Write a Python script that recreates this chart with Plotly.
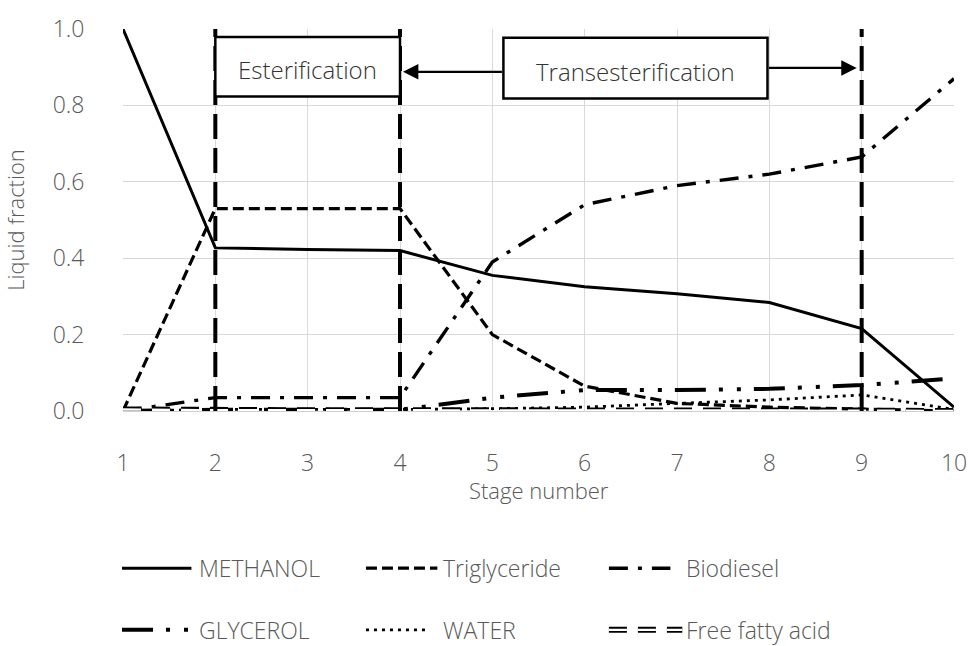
import plotly.graph_objects as go

# Stage-wise liquid composition along the reactive distillation column
stages = [1, 2, 3, 4, 5, 6, 7, 8, 9, 10]
methanol = [1.0, 0.427, 0.423, 0.42, 0.355, 0.325, 0.307, 0.284, 0.216, 0.01]
triglyceride = [0.0, 0.53, 0.53, 0.53, 0.20, 0.065, 0.02, 0.01, 0.005, 0.0]
biodiesel = [0.0, 0.035, 0.035, 0.035, 0.39, 0.54, 0.59, 0.62, 0.665, 0.87]
glycerol = [0.0, 0.003, 0.003, 0.003, 0.035, 0.055, 0.055, 0.058, 0.068, 0.085]
water = [0.0, 0.004, 0.004, 0.004, 0.006, 0.01, 0.02, 0.029, 0.042, 0.004]
free_fatty_acid = [0.004, 0.002, 0.002, 0.002, 0.001, 0.001, 0.001, 0.001, 0.001, 0.0]

# Section boundaries (stage numbers) and label boxes
section_bounds = [2, 4, 9]
esterification_span = [2, 4]
transesterification_span = [5.12, 7.98]

TXT = "#595959"
FONT = "Open Sans"
LIGHT = 300

# page geometry of the plotting area
W, H = 979, 646
ML, MR, MT, MB = 123, 18, 27, 235
PW, PH = W - ML - MR, H - MT - MB

def px_x(px):
    return (px - ML) / PW

def px_y(py):
    return (MT + PH - py) / PH

# series: name, values, line style, legend sample length, legend column, legend row
series = [
    ("METHANOL", methanol, dict(dash="solid", width=3), 70, 0, 0),
    ("Triglyceride", triglyceride, dict(dash="11px,5px", width=3.2), 72, 1, 0),
    ("Biodiesel", biodiesel, dict(dash="19px,10px,4px,10px", width=3.4), 62, 2, 0),
    ("GLYCEROL", glycerol, dict(dash="31px,13px,4px,14px,4px,13px", width=4), 68, 0, 1),
    ("WATER", water, dict(dash="3px,5px", width=2.8), 62, 1, 1),
    ("Free fatty acid", free_fatty_acid, dict(dash="18px,11px", width=6), 74, 2, 1),
]
hollow = {"Free fatty acid": 2.4}

legend_col_px = [122, 368, 613]
legend_row_px = [569, 631]
legend_text_gap = 76
x_title_px = 490

fig = go.Figure()

for name, vals, style, _, _, _ in series:
    fig.add_trace(go.Scatter(
        x=stages, y=vals, name=name, mode="lines", showlegend=False,
        line=dict(color="black", width=style["width"], dash=style["dash"]),
    ))
    if name in hollow:
        fig.add_trace(go.Scatter(
            x=stages, y=vals, mode="lines", showlegend=False, hoverinfo="skip",
            line=dict(color="white", width=hollow[name], dash=style["dash"]),
        ))

# Vertical section boundaries
for xb in section_bounds:
    fig.add_shape(type="line", x0=xb, x1=xb, y0=0, y1=1.0, xref="x", yref="y",
                  line=dict(color="black", width=4, dash="25px,9px"))

# Section label boxes
box_font = dict(size=24, color="#333333", family=FONT, weight=LIGHT)
fig.add_shape(type="rect", x0=esterification_span[0], x1=esterification_span[1],
              y0=0.823, y1=0.979, xref="x", yref="y",
              line=dict(color="black", width=2.5), fillcolor="white")
fig.add_annotation(x=sum(esterification_span) / 2, y=0.893, text="Esterification",
                   showarrow=False, font=box_font)
fig.add_shape(type="rect", x0=transesterification_span[0], x1=transesterification_span[1],
              y0=0.818, y1=0.977, xref="x", yref="y",
              line=dict(color="black", width=2.5), fillcolor="white")
fig.add_annotation(x=sum(transesterification_span) / 2, y=0.89, text="Transesterification",
                   showarrow=False, font=box_font)

# Arrows from the transesterification box to its section limits
fig.add_annotation(x=section_bounds[1], y=0.888, ax=transesterification_span[0], ay=0.888,
                   xref="x", yref="y", axref="x", ayref="y", text="", showarrow=True,
                   arrowhead=2, arrowsize=1.4, arrowwidth=2.2, arrowcolor="black", standoff=3)
fig.add_annotation(x=section_bounds[2], y=0.898, ax=transesterification_span[1], ay=0.898,
                   xref="x", yref="y", axref="x", ayref="y", text="", showarrow=True,
                   arrowhead=2, arrowsize=1.4, arrowwidth=2.2, arrowcolor="black", standoff=5)

# Legend below the axes: line sample followed by the series name
legend_font = dict(size=23, color=TXT, family=FONT, weight=LIGHT)
for name, _, style, length, col, row in series:
    x0 = legend_col_px[col]
    yy = px_y(legend_row_px[row])
    fig.add_shape(type="line", xref="paper", yref="paper",
                  x0=px_x(x0), x1=px_x(x0 + length), y0=yy, y1=yy,
                  line=dict(color="black", width=style["width"], dash=style["dash"]))
    if name in hollow:
        fig.add_shape(type="line", xref="paper", yref="paper",
                      x0=px_x(x0), x1=px_x(x0 + length), y0=yy, y1=yy,
                      line=dict(color="white", width=hollow[name], dash=style["dash"]))
    fig.add_annotation(xref="paper", yref="paper", x=px_x(x0 + legend_text_gap), y=yy,
                       xanchor="left", yanchor="middle", text=name, showarrow=False,
                       font=legend_font)

tick_font = dict(size=23, color=TXT, family=FONT, weight=LIGHT)
title_font = dict(size=22, color=TXT, family=FONT, weight=LIGHT)

# x-axis title, set just under the tick labels
fig.add_annotation(xref="paper", yref="paper", x=0.5, y=px_y(x_title_px),
                   xanchor="center", yanchor="middle", text="Stage number",
                   showarrow=False, font=title_font)

fig.update_layout(
    width=W, height=H,
    margin=dict(l=ML, r=MR, t=MT, b=MB),
    plot_bgcolor="white", paper_bgcolor="white",
    font=dict(family=FONT, color=TXT, size=18),
    showlegend=False,
    xaxis=dict(range=[1, 10], dtick=1, showgrid=True, gridcolor="#d9d9d9", gridwidth=1,
               zeroline=False, showline=True, linecolor="#d0d0d0",
               ticks="outside", ticklen=31, tickcolor="rgba(0,0,0,0)",
               tickfont=tick_font),
    yaxis=dict(range=[0, 1.0], tickvals=[0, 0.2, 0.4, 0.6, 0.8, 1.0], tickformat=".1f",
               showgrid=True, gridcolor="#d9d9d9", gridwidth=1, zeroline=False,
               showline=False, ticks="outside", ticklen=33, tickcolor="rgba(0,0,0,0)",
               tickfont=tick_font,
               title=dict(text="Liquid fraction", font=title_font, standoff=22)),
)

fig.write_html("out.html")
